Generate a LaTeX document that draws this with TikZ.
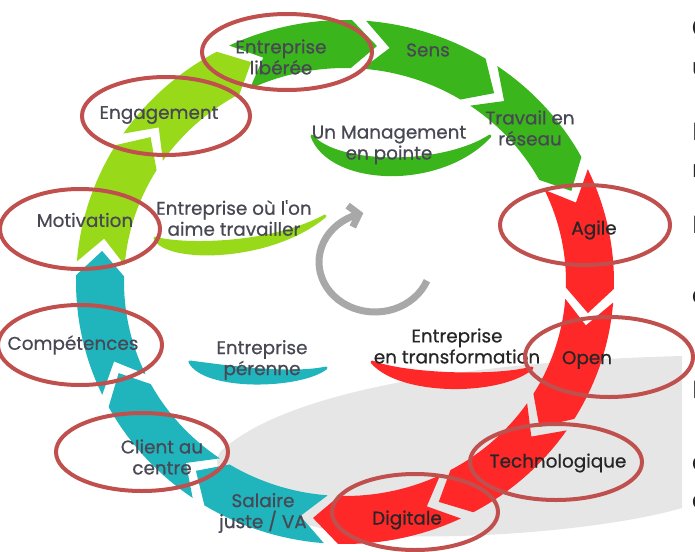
\documentclass[tikz,border=0pt]{standalone}
\usepackage{fontspec}
\setmainfont{Poppins}
\newfontfamily\labelfont{Poppins}[FakeBold=0.6]
\newfontfamily\slidefont{Carlito}
\usetikzlibrary{arrows.meta}

\definecolor{ringgreen}{RGB}{58,182,28}
\definecolor{ringlime}{RGB}{152,218,26}
\definecolor{ringteal}{RGB}{32,180,188}
\definecolor{ringred}{RGB}{255,40,40}
\definecolor{markred}{RGB}{192,80,77}
\definecolor{shadowgray}{RGB}{230,230,230}
\definecolor{turngray}{RGB}{168,168,168}
\definecolor{labelgray}{RGB}{72,72,84}

\tikzset{
  seglabel/.style={text=labelgray, align=center, inner sep=0pt, font=\labelfont\fontsize{18.4}{21}\selectfont},
  redlabel/.style={seglabel, text=black!85},
  circled/.style={draw=markred, line width=4pt},
  crescent/.style={line width=3pt, line join=round},
  edgeletter/.style={anchor=base west, inner sep=0pt, text=black!85, font=\slidefont\fontsize{27}{30}\selectfont}
}

% ring: centre, radii, half band width
\def\rcx{345}\def\rcy{282}\def\rrx{245}\def\rry{238}\def\rbw{24}

% one chevron of the ring, centred on angle #1, flowing clockwise
\newcommand{\ringseg}[2]{%
  \fill[#2] plot[domain={#1+13.5}:{#1-13.5},samples=16]
      ({\rcx+(\rrx+\rbw)*cos(\x)},{\rcy-(\rry+\rbw)*sin(\x)})
    -- ({\rcx+\rrx*cos(#1-19.5)},{\rcy-\rry*sin(#1-19.5)})
    -- plot[domain={#1-13.5}:{#1+13.5},samples=16]
      ({\rcx+(\rrx-\rbw)*cos(\x)},{\rcy-(\rry-\rbw)*sin(\x)})
    -- ({\rcx+\rrx*cos(#1+7.5)},{\rcy-\rry*sin(#1+7.5)}) -- cycle;}

\begin{document}
\begin{tikzpicture}[x=1pt,y=-1pt]
\useasboundingbox (0,0) rectangle (695,551);
\clip (0,0) rectangle (695,551);

% grey shadow under the red part
\fill[shadowgray] (220,452) .. controls (280,395) and (450,362) .. (682,356)
  -- (682,508) .. controls (600,532) and (420,545) .. (330,530)
  .. controls (250,515) and (205,475) .. (220,452) -- cycle;

\foreach \a/\c in {12/ringred,-18/ringred,-48/ringred,-78/ringred,
  -108/ringteal,-138/ringteal,-168/ringteal,162/ringlime,132/ringlime,
  102/ringgreen,72/ringgreen,42/ringgreen}
  \ringseg{\a}{\c};

% inner crescents
\filldraw[crescent,ringgreen] (312,136) .. controls (330,185) and (440,190) .. (490,136)
  .. controls (440,168) and (335,165) .. (312,136) -- cycle;
\filldraw[crescent,ringlime] (155,238) .. controls (165,262) and (270,262) .. (325,216)
  .. controls (270,246) and (180,246) .. (155,238) -- cycle;
\filldraw[crescent,ringteal] (190,362) .. controls (205,390) and (300,388) .. (326,368)
  .. controls (290,376) and (220,366) .. (190,362) -- cycle;
\filldraw[crescent,ringred] (372,362) .. controls (400,395) and (500,395) .. (532,368)
  .. controls (495,378) and (405,375) .. (372,362) -- cycle;

% turning arrow in the middle
\draw[turngray,line width=7pt,-{Straight Barb[length=9pt,width=22pt]}]
  plot[domain=-22:-258,samples=40] ({375+56*cos(\x)},{262-50*sin(\x)});

% labels on the ring
\node[seglabel] (libere) at (281,57) {Entreprise\\libérée};
\node[seglabel] (sens) at (428,50) {Sens};
\node[seglabel] (reseau) at (530,128) {Travail en\\réseau};
\node[redlabel] (agile) at (594,230) {Agile};
\node[redlabel] (open) at (587,360) {Open};
\node[redlabel] (techno) at (558,463) {Technologique};
\node[redlabel] (digitale) at (407,520) {Digitale};
\node[seglabel] (salaire) at (263,513) {Salaire\\juste / VA};
\node[seglabel] (client) at (162,457) {Client au\\centre};
\node[seglabel] (competences) at (73,345) {Compétences};
\node[seglabel] (motivation) at (85,220) {Motivation};
\node[seglabel] (engagement) at (159,115) {Engagement};

% labels inside
\node[seglabel] (aime) at (234,218) {Entreprise où l'on\\aime travailler};
\node[seglabel] (pointe) at (389,145) {Un Management\\en pointe};
\node[seglabel] (perenne) at (262,360) {Entreprise\\pérenne};
\node[redlabel] (transfo) at (457,346) {Entreprise\\en transformation};

% red rings drawn over the picture
\draw[circled] (287,52) ellipse[x radius=85,y radius=38];
\draw[circled] (166,116) ellipse[x radius=84,y radius=39];
\draw[circled] (80,229) ellipse[x radius=80,y radius=40];
\draw[circled] (80,345) ellipse[x radius=82,y radius=40];
\draw[circled] (142,452) ellipse[x radius=86,y radius=39];
\draw[circled] (415,512) ellipse[x radius=83,y radius=38];
\draw[circled] (556,462) ellipse[x radius=86,y radius=38];
\draw[circled] (609,357) ellipse[x radius=84,y radius=40];
\draw[circled] (585,225) ellipse[x radius=85,y radius=40];

% cut-off text at the right edge
\foreach \y/\t in {37/C,75/u,140/I,177/n,233/I,303/c,398/I,470/c,508/c}
  \node[edgeletter] (edge-\y) at (692,\y) {\t};
\end{tikzpicture}
\end{document}
